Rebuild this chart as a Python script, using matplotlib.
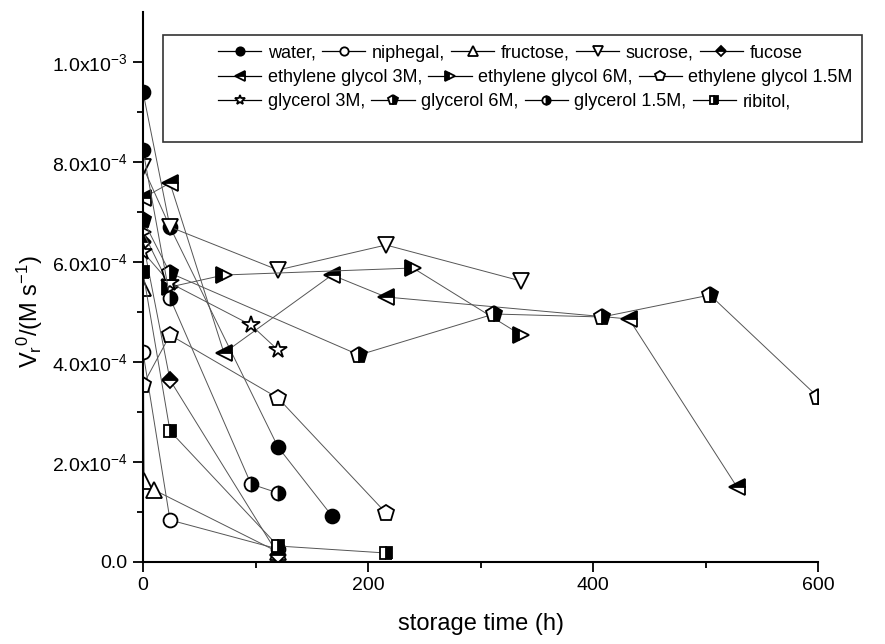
import matplotlib
matplotlib.use('Agg')
import matplotlib.pyplot as plt
from matplotlib.lines import Line2D
from matplotlib.patches import Rectangle

plt.rcParams['font.family'] = ['Liberation Sans', 'DejaVu Sans']
plt.rcParams['mathtext.fontset'] = 'custom'
plt.rcParams['mathtext.rm'] = 'Liberation Sans'
plt.rcParams['mathtext.it'] = 'Liberation Sans:italic'
plt.rcParams['mathtext.default'] = 'regular'

# storage time (h) and initial rate (M/s) for each medium
water_t = [0, 24, 120, 168]
water_v = [9.4e-4, 6.7e-4, 2.3e-4, 0.92e-4]
niphegal_t = [0, 24, 120]
niphegal_v = [4.2e-4, 0.84e-4, 0.26e-4]
fructose_t = [0, 1, 10, 120]
fructose_v = [5.48e-4, 1.62e-4, 1.44e-4, 0.2e-4]
sucrose_t = [0, 24, 120, 216, 336]
sucrose_v = [7.9e-4, 6.7e-4, 5.84e-4, 6.34e-4, 5.62e-4]
fucose_t = [0, 24, 120]
fucose_v = [6.4e-4, 3.64e-4, 0.15e-4]
eg3_t = [0, 24, 72, 168, 216, 432, 528]
eg3_v = [7.28e-4, 7.58e-4, 4.18e-4, 5.74e-4, 5.3e-4, 4.86e-4, 1.5e-4]
eg6_t = [0, 24, 72, 240, 336]
eg6_v = [6.6e-4, 5.5e-4, 5.74e-4, 5.88e-4, 4.54e-4]
eg15_t = [0, 24, 120, 216]
eg15_v = [3.54e-4, 4.54e-4, 3.28e-4, 0.98e-4]
gly3_t = [0, 24, 96, 120]
gly3_v = [6.2e-4, 5.58e-4, 4.74e-4, 4.24e-4]
gly6_t = [0, 24, 192, 312, 408, 504, 600]
gly6_v = [6.84e-4, 5.78e-4, 4.14e-4, 4.96e-4, 4.9e-4, 5.34e-4, 3.3e-4]
gly15_t = [0, 24, 96, 120]
gly15_v = [8.24e-4, 5.28e-4, 1.56e-4, 1.38e-4]
ribitol_t = [0, 24, 120, 216]
ribitol_v = [5.8e-4, 2.62e-4, 0.32e-4, 0.18e-4]

legend_labels = ['water,', 'niphegal,', 'fructose,', 'sucrose,', 'fucose',
                 'ethylene glycol 3M,', 'ethylene glycol 6M,', 'ethylene glycol 1.5M',
                 'glycerol 3M,', 'glycerol 6M,', 'glycerol 1.5M,', 'ribitol,']

x_ticks = [0, 200, 400, 600]
y_ticks = [0, 2e-4, 4e-4, 6e-4, 8e-4, 1e-3]
y_tick_labels = ['0.0', '2.0x10$^{-4}$', '4.0x10$^{-4}$', '6.0x10$^{-4}$',
                 '8.0x10$^{-4}$', '1.0x10$^{-3}$']

series = [(water_t, water_v), (niphegal_t, niphegal_v), (fructose_t, fructose_v),
          (sucrose_t, sucrose_v), (fucose_t, fucose_v), (eg3_t, eg3_v),
          (eg6_t, eg6_v), (eg15_t, eg15_v), (gly3_t, gly3_v), (gly6_t, gly6_v),
          (gly15_t, gly15_v), (ribitol_t, ribitol_v)]

# marker, fillstyle, face colour, size
styles = [('o', 'full', 'black', 10), ('o', 'full', 'white', 10),
          ('^', 'full', 'white', 12), ('v', 'full', 'white', 12),
          ('D', 'top', 'black', 8.5), ('<', 'top', 'black', 12),
          ('>', 'left', 'black', 12), ('p', 'full', 'white', 12),
          ('*', 'full', 'white', 13), ('p', 'right', 'black', 12),
          ('o', 'right', 'black', 10), ('s', 'right', 'black', 9)]

fig = plt.figure(figsize=(8.85, 6.44), dpi=100)
ax = fig.add_axes([143 / 885, 82 / 644, 675 / 885, 550 / 644])

handles = []
for (t, v), (m, fs, fc, ms) in zip(series, styles):
    kw = dict(marker=m, fillstyle=fs, markerfacecolor=fc,
              markerfacecoloralt='white', markeredgecolor='black',
              markeredgewidth=1.3)
    ax.plot(t, v, color='#555555', lw=0.7, markersize=ms, **kw)
    handles.append(Line2D([], [], color='black', lw=0.9, markersize=ms * 0.6, **kw))

ax.set_xlim(0, 600)
ax.set_ylim(0, 1.1e-3)
ax.spines['top'].set_visible(False)
ax.spines['right'].set_visible(False)
for s in ['left', 'bottom']:
    ax.spines[s].set_linewidth(1.5)

ax.set_xticks(x_ticks)
ax.set_xticks([100, 300, 500], minor=True)
ax.set_yticks(y_ticks)
ax.set_yticklabels(y_tick_labels)
ax.set_yticks([1e-4, 3e-4, 5e-4, 7e-4, 9e-4], minor=True)
ax.tick_params(which='major', direction='out', length=7, width=1.3, labelsize=14, pad=4)
ax.tick_params(which='minor', direction='out', length=4.5, width=1.3)

ax.set_xlabel('storage time (h)', fontsize=17)
ax.set_ylabel(r'V$_r$$^0$/(M s$^{-1}$)', fontsize=17)
ax.xaxis.set_label_coords(0.5, -0.093)
ax.yaxis.set_label_coords(-0.145, 0.455)

rows = [(0, 5, 53), (5, 8, 78), (8, 12, 102)]
for a, b, yp in rows:
    fig.legend(handles[a:b], legend_labels[a:b], loc='center left',
               bbox_to_anchor=(218 / 885, 1 - yp / 644), ncol=b - a, frameon=False,
               fontsize=13, handlelength=2.4, handletextpad=0.35,
               columnspacing=0.35, borderpad=0, borderaxespad=0)

fig.add_artist(Rectangle((163 / 885, 1 - 142 / 644), (862 - 163) / 885, 107 / 644,
                         transform=fig.transFigure, fill=False, lw=1.2, ec='#333333'))

fig.savefig('out.png', dpi=100)
